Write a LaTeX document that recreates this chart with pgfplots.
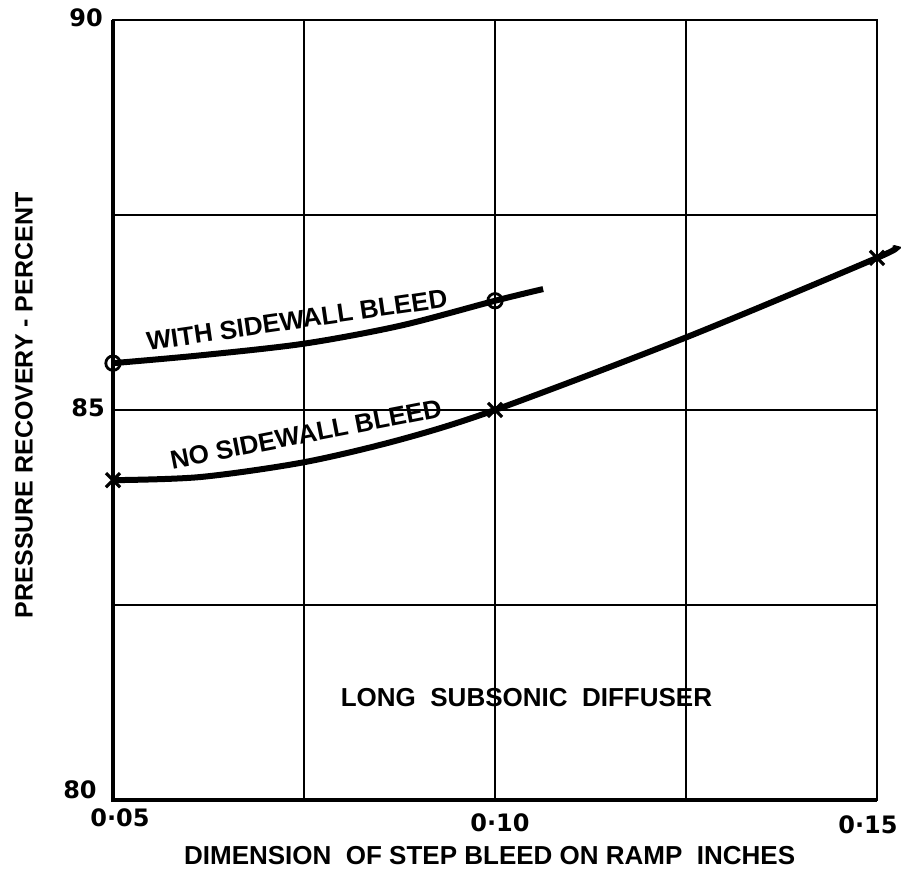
\documentclass[border=0pt]{standalone}
\usepackage{fontspec}
\setmainfont{Liberation Sans}
\newfontfamily\digitfont{DejaVu Sans}
\usepackage{pgfplots}
\pgfplotsset{compat=1.18}
\newcommand{\lf}{\fontsize{13}{15}\selectfont\bfseries}
\newcommand{\tf}{\digitfont\fontsize{12}{14}\selectfont\bfseries}
\begin{document}
\begin{tikzpicture}
\begin{axis}[
  scale only axis,
  width=382pt, height=390pt,
  xmin=0.05, xmax=0.15, ymin=80, ymax=90,
  xtick={0.05,0.10,0.15}, xticklabels={},
  ytick={80,85,90}, yticklabels={},
  minor xtick={0.075,0.125}, minor ytick={82.5,87.5},
  grid=both,
  major grid style={black, line width=0.8pt},
  minor grid style={black, line width=0.8pt},
  axis line style={black, line width=0.8pt},
  major tick length=0pt, minor tick length=0pt,
  clip=false,
]
% no sidewall bleed
\addplot[black, line width=3pt, smooth] coordinates {
  (0.05,84.10) (0.0614,84.14) (0.075,84.33) (0.0876,84.62) (0.10,85.00)
  (0.125,85.93) (0.15,86.95) (0.1521,87.07)};
% with sidewall bleed
\addplot[black, line width=3pt, smooth] coordinates {
  (0.05,85.60) (0.0614,85.70) (0.075,85.85) (0.0876,86.08) (0.10,86.40) (0.1063,86.55)};
\addplot[only marks, mark=o, mark size=3.6pt, mark options={black, line width=1.4pt, fill=white}]
  coordinates {(0.05,85.60) (0.10,86.40)};
\addplot[only marks, mark=x, mark size=5pt, mark options={black, line width=1.6pt}]
  coordinates {(0.05,84.10) (0.10,85.00) (0.15,86.95)};
\draw[black, line width=1.6pt] (rel axis cs:0,1) -- (rel axis cs:0,0) -- (rel axis cs:1,0);
% tick labels
\node[font=\tf] at (rel axis cs:0.00916,-0.0231) {0·05};
\node[font=\tf] at (rel axis cs:0.5065,-0.0295) {0·10};
\node[font=\tf] at (rel axis cs:0.9882,-0.0321) {0·15};
\node[font=\tf] at (rel axis cs:-0.0353,1.0026) {90};
\node[font=\tf] at (rel axis cs:-0.0327,0.5026) {85};
\node[font=\tf] at (rel axis cs:-0.0432,0.0128) {80};
% texts
\node[font=\lf, rotate=8.3] at (rel axis cs:0.2408,0.6154) {WITH SIDEWALL BLEED};
\node[font=\lf, rotate=11] at (rel axis cs:0.2526,0.4692) {NO SIDEWALL BLEED};
\node[font=\lf] at (rel axis cs:0.5412,0.1308) {LONG\ \ SUBSONIC\ \ DIFFUSER};
\node[font=\lf] at (rel axis cs:0.493,-0.0718) {DIMENSION\ \ OF STEP BLEED ON RAMP\ \ INCHES};
\node[font=\fontsize{12.5}{14}\selectfont\bfseries, rotate=90] at (rel axis cs:-0.1165,0.506) {PRESSURE RECOVERY - PERCENT};
\coordinate (bbA) at (rel axis cs:-0.1479,-0.0949);
\coordinate (bbB) at (rel axis cs:1.0314,1.0256);
\end{axis}
\pgfresetboundingbox
\path[use as bounding box] (bbA) rectangle (bbB);
\end{tikzpicture}
\end{document}
